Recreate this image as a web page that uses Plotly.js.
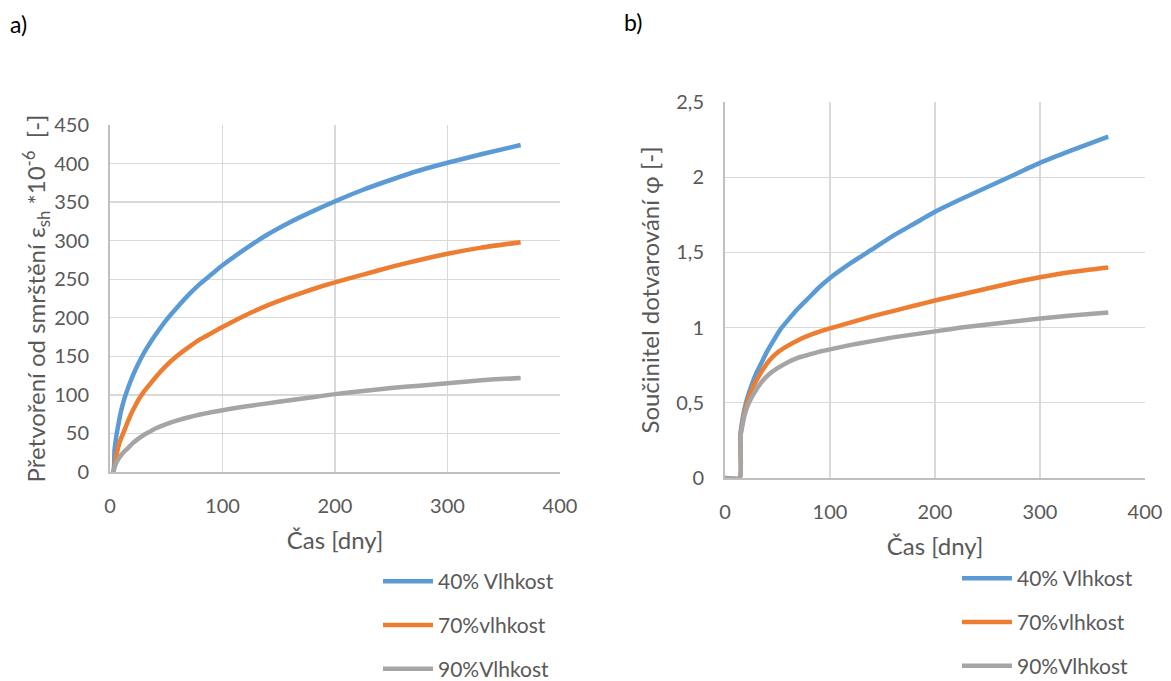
<!DOCTYPE html>
<html>
<head>
<meta charset="utf-8">
<script src="https://cdn.plot.ly/plotly-3.0.1.min.js"></script>
<style>html,body{margin:0;padding:0;background:#fff;}#chart{width:1171px;height:681px;}</style>
</head>
<body>
<div id="chart"></div>
<script>
// ---- Chart a) shrinkage strain (x 10^-6) vs time [days] ----
var shrinkT40 = [1, 3, 4, 5, 6, 8, 10, 13, 16, 20, 25, 30, 35, 40, 50, 60, 70, 80, 90, 100, 120, 140, 160, 180, 200, 225, 250, 275, 300, 330, 365];
var shrink40  = [0, 0, 28, 40, 50, 66, 80, 96, 109, 124, 140, 154, 166, 177, 197, 214, 230, 244, 256, 268, 289, 308, 324, 338, 351, 366, 379, 391, 401, 412, 424];
var shrinkT70 = [1, 3, 4, 5, 6, 8, 10, 13, 16, 20, 25, 30, 35, 40, 50, 60, 70, 80, 90, 100, 120, 140, 160, 180, 200, 225, 250, 275, 300, 330, 365];
var shrink70  = [0, 0, 8, 16, 24, 36, 44, 55, 66, 79, 93, 104, 113, 122, 138, 151, 162, 172, 180, 188, 203, 216, 227, 237, 246, 256, 266, 275, 283, 291, 298];
var shrinkT90 = [1, 3, 4, 5, 6, 8, 10, 13, 16, 20, 25, 30, 35, 40, 50, 60, 70, 80, 90, 100, 120, 140, 160, 180, 200, 225, 250, 275, 300, 330, 365];
var shrink90  = [0, 0, 6, 10, 13, 18, 22, 27, 31, 37, 43, 48, 52, 56, 62, 67, 71, 74.5, 77.5, 80, 85, 89, 93, 97, 101, 105, 109, 112, 115, 119, 122];

// ---- Chart b) creep coefficient vs time [days] ----
var creepT40 = [0, 14, 14.5, 15, 16, 18, 20, 23, 26, 30, 35, 40, 45, 53, 60, 70, 80, 90, 100, 120, 140, 160, 180, 200, 225, 250, 275, 300, 330, 365];
var creep40  = [0, 0, 0.27, 0.31, 0.36, 0.44, 0.50, 0.57, 0.63, 0.70, 0.77, 0.84, 0.90, 0.99, 1.05, 1.13, 1.20, 1.27, 1.33, 1.43, 1.52, 1.61, 1.69, 1.77, 1.855, 1.935, 2.015, 2.095, 2.178, 2.27];
var creepT70 = [0, 14, 14.5, 15, 16, 18, 21, 25, 30, 35, 42, 50, 60, 70, 80, 90, 100, 120, 140, 160, 180, 200, 225, 250, 275, 300, 330, 365];
var creep70  = [0, 0, 0.26, 0.30, 0.34, 0.42, 0.50, 0.58, 0.65, 0.71, 0.78, 0.835, 0.88, 0.918, 0.948, 0.973, 0.995, 1.035, 1.075, 1.11, 1.145, 1.18, 1.22, 1.26, 1.30, 1.335, 1.37, 1.40];
var creepT90 = [0, 14, 14.5, 15, 16, 18, 21, 25, 30, 35, 42, 50, 60, 70, 80, 90, 100, 120, 140, 160, 180, 200, 225, 250, 275, 300, 330, 365];
var creep90  = [0, 0, 0.25, 0.29, 0.33, 0.40, 0.47, 0.53, 0.59, 0.64, 0.69, 0.73, 0.77, 0.80, 0.82, 0.84, 0.855, 0.885, 0.91, 0.935, 0.955, 0.975, 1.0, 1.02, 1.04, 1.06, 1.08, 1.10];

var seriesNames = ['40% Vlhkost', '70%vlhkost', '90%Vlhkost'];
var seriesColors = ['#5B9BD5', '#ED7D31', '#A5A5A5'];
var xTitle = 'Čas [dny]';
var yTitleA = 'Přetvoření od smrštění ε<sub>sh</sub> *10<sup>-6</sup>  [-]';
var yTitleB = 'Součinitel dotvarování φ [-]';

var FONT = 'Lato, "Open Sans", "Liberation Sans", sans-serif';
var LW = 4.5;

function tr(x, y, i, xa, ya, leg, grp) {
  return {
    x: x, y: y, type: 'scatter', mode: 'lines', name: seriesNames[i],
    xaxis: xa, yaxis: ya, legend: leg, legendgroup: grp,
    line: {color: seriesColors[i], width: LW, shape: 'spline', smoothing: 0.5}
  };
}

var data = [
  tr(shrinkT40, shrink40, 0, 'x', 'y', 'legend', 'a0'),
  tr(shrinkT70, shrink70, 1, 'x', 'y', 'legend', 'a1'),
  tr(shrinkT90, shrink90, 2, 'x', 'y', 'legend', 'a2'),
  tr(creepT40, creep40, 0, 'x2', 'y2', 'legend2', 'b0'),
  tr(creepT70, creep70, 1, 'x2', 'y2', 'legend2', 'b1'),
  tr(creepT90, creep90, 2, 'x2', 'y2', 'legend2', 'b2')
];

var W = 1171, H = 681;
function px(x) { return x / W; }
function py(y) { return (H - y) / H; }

var tickFont = {family: FONT, size: 20, color: '#595959'};
var titleFont = {family: FONT, size: 24, color: '#595959'};

function xax(d, anchor) {
  return {
    domain: d, anchor: anchor, range: [0, 400], dtick: 100, tick0: 0,
    showgrid: true, gridcolor: '#D9D9D9', gridwidth: 1.3,
    showline: true, linecolor: '#BFBFBF', linewidth: 2,
    zeroline: false, ticks: 'outside', ticklen: 15, tickcolor: 'rgba(0,0,0,0)',
    tickfont: tickFont, fixedrange: true,
    title: {text: xTitle, font: titleFont, standoff: 16}
  };
}
function yax(d, anchor, range, dtick, title, standoff) {
  return {
    domain: d, anchor: anchor, range: range, dtick: dtick, tick0: 0,
    showgrid: true, gridcolor: '#D9D9D9', gridwidth: 1.3,
    showline: true, linecolor: '#BFBFBF', linewidth: 2,
    zeroline: false, ticks: 'outside', ticklen: 15, tickcolor: 'rgba(0,0,0,0)',
    tickfont: tickFont, fixedrange: true,
    title: {text: title, font: titleFont, standoff: standoff}
  };
}

var legendFont = {family: FONT, size: 21, color: '#595959'};

var layout = {
  width: W, height: H,
  margin: {l: 0, r: 0, t: 0, b: 0, autoexpand: false},
  paper_bgcolor: '#FFFFFF', plot_bgcolor: '#FFFFFF',
  separators: ', ',
  font: {family: FONT, color: '#595959'},
  showlegend: true,
  xaxis: xax([px(110), px(560)], 'y'),
  yaxis: yax([py(472), py(125)], 'x', [0, 450], 50, yTitleA, 2),
  xaxis2: xax([px(725), px(1145)], 'y2'),
  yaxis2: yax([py(478), py(102)], 'x2', [0, 2.5], 0.5, yTitleB, 10),
  legend: {
    x: px(378), y: py(561), xanchor: 'left', yanchor: 'top',
    font: legendFont, bgcolor: 'rgba(0,0,0,0)', tracegroupgap: 13.5, itemwidth: 50
  },
  legend2: {
    x: px(957), y: py(558), xanchor: 'left', yanchor: 'top',
    font: legendFont, bgcolor: 'rgba(0,0,0,0)', tracegroupgap: 13.5, itemwidth: 50
  },
  annotations: [
    {text: 'a)', xref: 'paper', yref: 'paper', x: px(8), y: py(8), xanchor: 'left', yanchor: 'top',
     showarrow: false, font: {family: FONT, size: 23, color: '#000000'}},
    {text: 'b)', xref: 'paper', yref: 'paper', x: px(622), y: py(6), xanchor: 'left', yanchor: 'top',
     showarrow: false, font: {family: FONT, size: 23, color: '#000000'}}
  ]
};

Plotly.newPlot('chart', data, layout, {displayModeBar: false, staticPlot: true});
</script>
</body>
</html>
